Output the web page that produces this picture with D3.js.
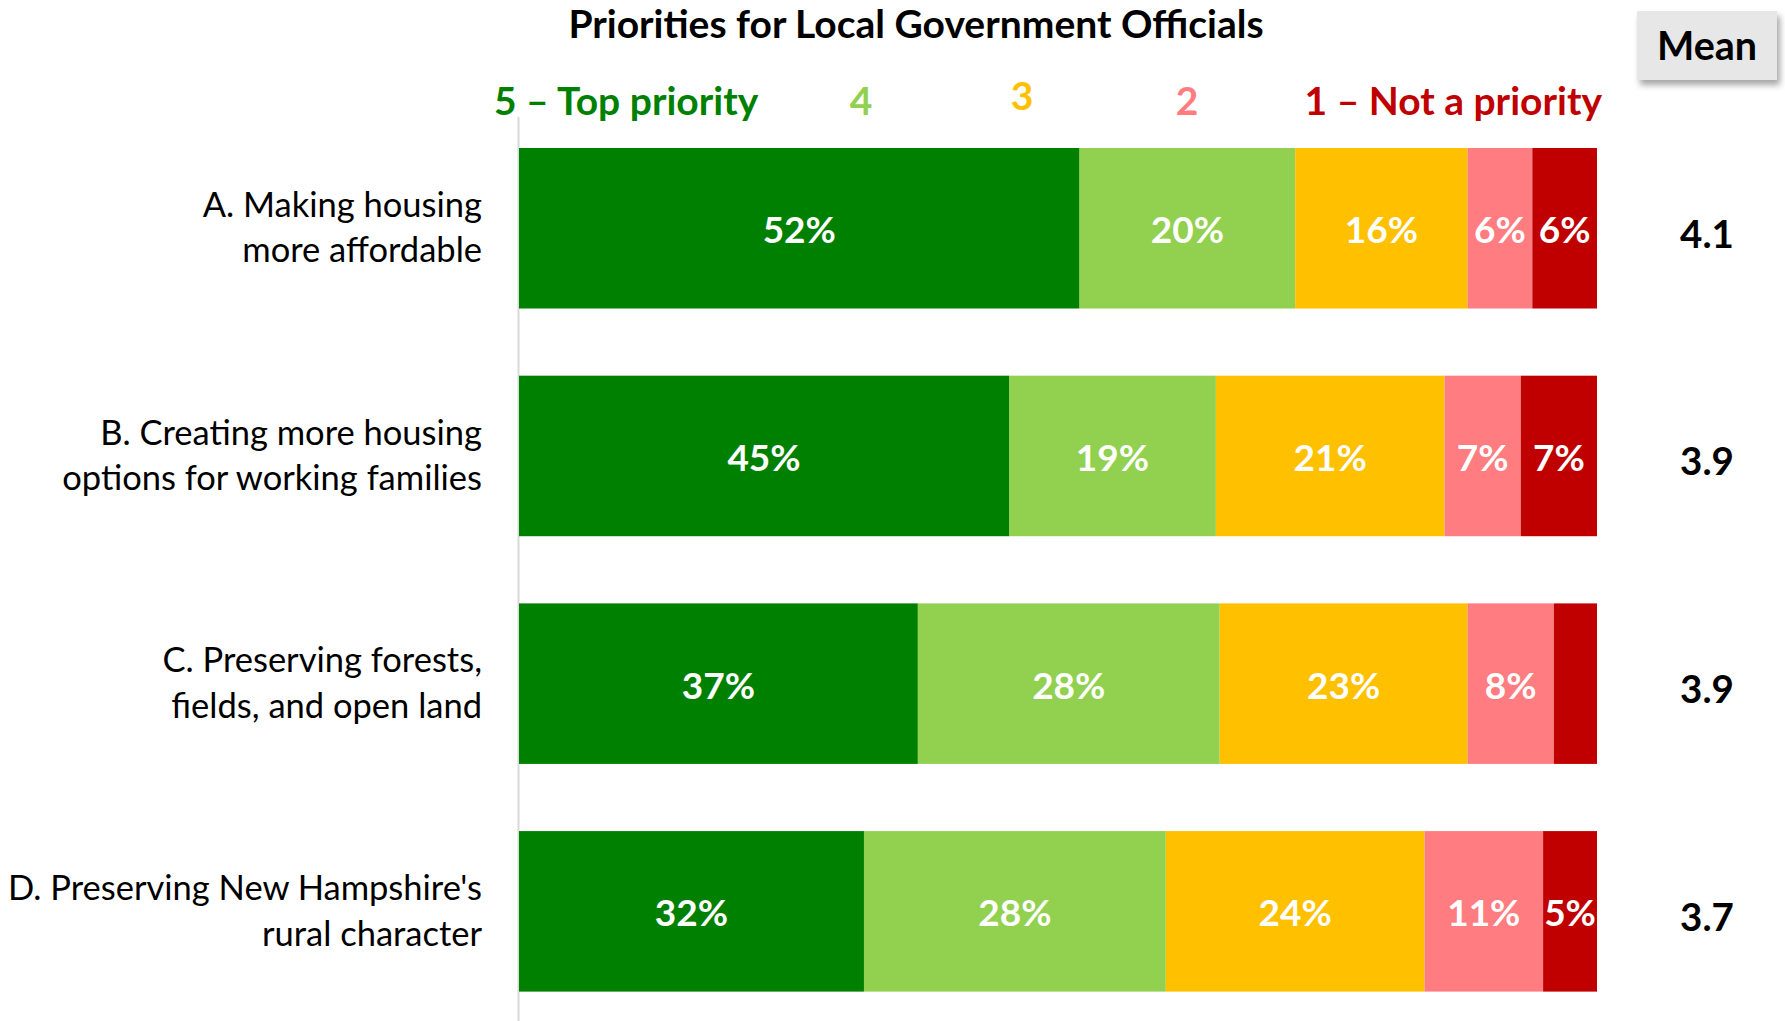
<!DOCTYPE html>
<html>
<head>
<meta charset="utf-8">
<script src="https://cdn.jsdelivr.net/npm/d3@7"></script>
<style>
  html, body { margin: 0; padding: 0; background: #fff; }
  svg { display: block; font-family: Lato, "Open Sans", sans-serif; }
</style>
</head>
<body>
<svg id="chart" width="1785" height="1021"></svg>
<script>
// Survey items (two display lines each)
const categories = ["A", "B", "C", "D"];
const categoryLines = [
  ["A. Making housing", "more affordable"],
  ["B. Creating more housing", "options for working families"],
  ["C. Preserving forests,", "fields, and open land"],
  ["D. Preserving New Hampshire's", "rural character"]
];
// Share of responses (%) per priority level, in order 5 → 1
const levelNames = ["5 – Top priority", "4", "3", "2", "1 – Not a priority"];
const level5 = [52, 45, 37, 32];
const level4 = [20, 19, 28, 28];
const level3 = [16, 21, 23, 24];
const level2 = [6, 7, 8, 11];
const level1 = [6, 7, 4, 5];
const means = [4.1, 3.9, 3.9, 3.7];

const colors = ["#008000", "#92D050", "#FFC000", "#FF7C80", "#C00000"];

const series = [level5, level4, level3, level2, level1];

const svg = d3.select("#chart");

// 100% stacked layout: each row is normalised to its own total
const rows = categories.map((c, i) => {
  const vals = series.map(s => s[i]);
  const total = d3.sum(vals);
  let acc = 0;
  const segs = vals.map((v, k) => {
    const seg = { cat: c, level: k, value: v, x0: acc / total, x1: (acc + v) / total };
    acc += v;
    return seg;
  });
  return { cat: c, idx: i, segs };
});

const x = d3.scaleLinear().domain([0, 1]).range([519, 1597]);
const y = d3.scaleBand()
  .domain(categories)
  .range([114.4, 1025.2])
  .paddingInner(0.295)
  .paddingOuter(0.1475);

// Title
svg.append("text")
  .attr("x", 916).attr("y", 38)
  .attr("text-anchor", "middle")
  .attr("font-size", 39).attr("font-weight", 700)
  .attr("fill", "#000")
  .text("Priorities for Local Government Officials");

// Legend
const legendPos = [
  { x: 494, anchor: "start", y: 115 },
  { x: 861, anchor: "middle", y: 115 },
  { x: 1022, anchor: "middle", y: 110 },
  { x: 1187, anchor: "middle", y: 115 },
  { x: 1602, anchor: "end", y: 115 }
];
svg.append("g").selectAll("text")
  .data(levelNames)
  .join("text")
  .attr("x", (d, i) => legendPos[i].x)
  .attr("y", (d, i) => legendPos[i].y)
  .attr("text-anchor", (d, i) => legendPos[i].anchor)
  .attr("font-size", 39).attr("font-weight", 700)
  .attr("fill", (d, i) => colors[i])
  .text(d => d);

// Mean header box with soft shadow
const defs = svg.append("defs");
const f = defs.append("filter").attr("id", "shadow")
  .attr("x", "-20%").attr("y", "-20%").attr("width", "150%").attr("height", "160%");
f.append("feDropShadow").attr("dx", 3).attr("dy", 5).attr("stdDeviation", 3)
  .attr("flood-color", "#000").attr("flood-opacity", 0.35);

svg.append("rect")
  .attr("x", 1637).attr("y", 11).attr("width", 140).attr("height", 69)
  .attr("fill", "#E7E7E7")
  .attr("filter", "url(#shadow)");
svg.append("text")
  .attr("x", 1707).attr("y", 60)
  .attr("text-anchor", "middle")
  .attr("font-size", 39.5).attr("font-weight", 700)
  .attr("fill", "#000")
  .text("Mean");

// Vertical axis line
svg.append("line")
  .attr("x1", 518.5).attr("x2", 518.5)
  .attr("y1", 117).attr("y2", 1021)
  .attr("stroke", "#D9D9D9").attr("stroke-width", 2);

// Bars
const rowG = svg.append("g").selectAll("g")
  .data(rows)
  .join("g");

rowG.selectAll("rect")
  .data(d => d.segs)
  .join("rect")
  .attr("x", d => x(d.x0))
  .attr("y", d => y(d.cat))
  .attr("width", d => x(d.x1) - x(d.x0))
  .attr("height", y.bandwidth())
  .attr("fill", d => colors[d.level]);

rowG.selectAll("text.val")
  .data(d => d.segs.filter(s => s.value >= 5))
  .join("text")
  .attr("class", "val")
  .attr("x", d => (x(d.x0) + x(d.x1)) / 2)
  .attr("y", d => y(d.cat) + y.bandwidth() / 2 + 2)
  .attr("dy", "0.35em")
  .attr("text-anchor", "middle")
  .attr("font-size", 37).attr("font-weight", 700)
  .attr("fill", "#fff")
  .text(d => d.value + "%");

// Category labels
const labelG = svg.append("g").selectAll("text")
  .data(categories)
  .join("text")
  .attr("x", 482)
  .attr("y", d => y(d) + y.bandwidth() / 2)
  .attr("text-anchor", "end")
  .attr("font-size", 34.5)
  .attr("fill", "#000");
labelG.selectAll("tspan")
  .data((d, i) => categoryLines[i].map((t, k) => ({ t, k })))
  .join("tspan")
  .attr("x", 482)
  .attr("dy", d => d.k === 0 ? "-0.33em" : "1.32em")
  .text(d => d.t);

// Mean values
svg.append("g").selectAll("text")
  .data(categories)
  .join("text")
  .attr("x", 1707)
  .attr("y", d => y(d) + y.bandwidth() / 2 + 6)
  .attr("dy", "0.35em")
  .attr("text-anchor", "middle")
  .attr("font-size", 38.5).attr("font-weight", 700)
  .attr("fill", "#000")
  .text((d, i) => d3.format(".1f")(means[i]));
</script>
</body>
</html>
